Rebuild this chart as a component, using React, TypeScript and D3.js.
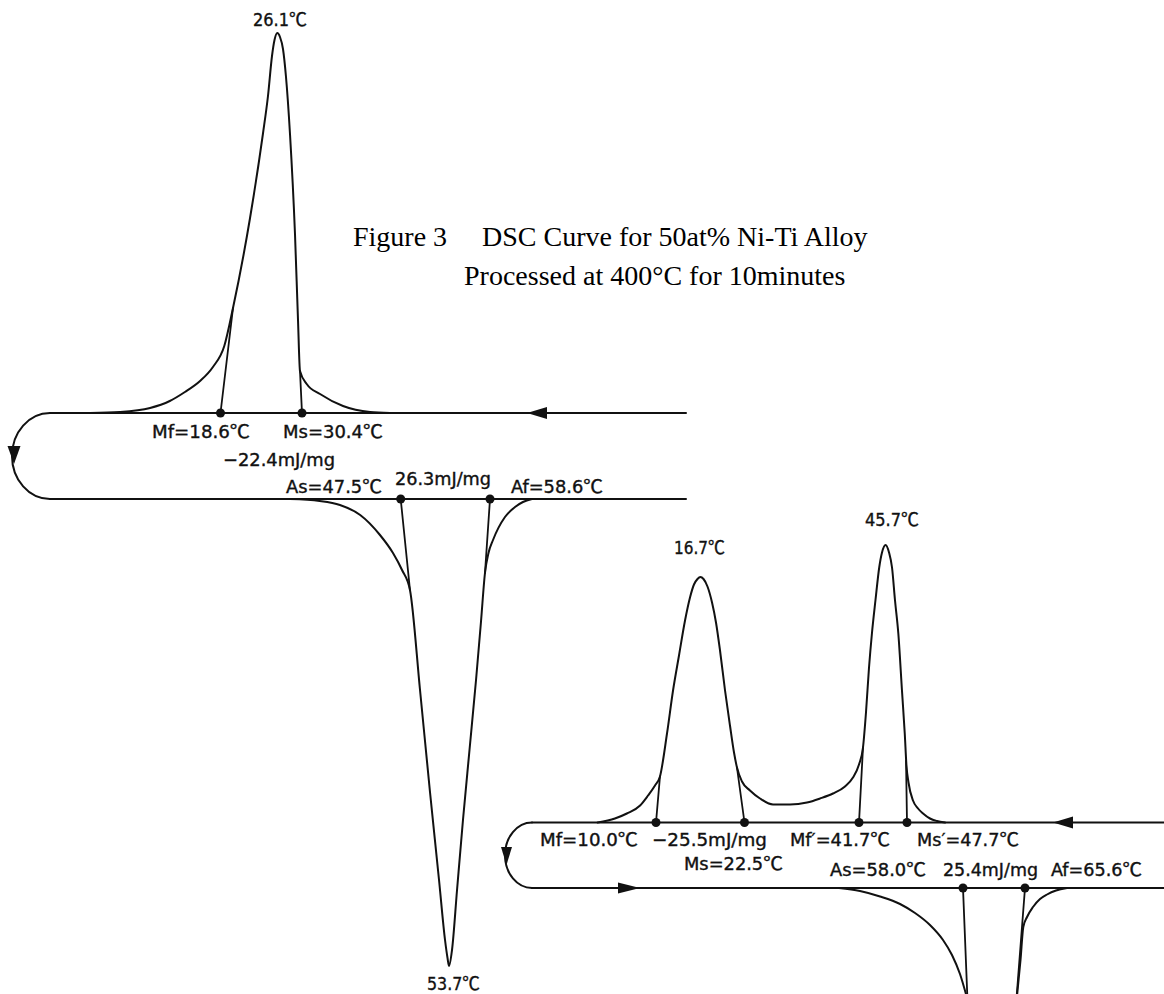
import React from "react";
import * as d3 from "d3";

type Pt = [number, number];

// ================= DATA =================
// Sample A — transformation temperatures (°C)
const sampleANames = ["Mf", "Ms", "As", "Af"];
const sampleATemps = [18.6, 30.4, 47.5, 58.6];
const sampleAPeaks = [26.1, 53.7]; // cooling peak, heating peak
const sampleAEnthalpy = [-22.4, 26.3]; // mJ/mg

// Sample A cooling trace: [temperature °C, heat flow (arb.)], exotherm up
const sampleACooling: Pt[] = [
  [1.4, 0], [5.3, 0.1], [9.3, 0.5], [11.9, 1.2], [13.9, 2.1], [15.9, 3.2],
  [17.6, 4.6], [19.1, 6.7], [20.25, 10.5], [22.5, 19.5], [24.2, 27.9],
  [24.87, 31.7], [25.4, 35.7], [25.73, 37.3], [26.1, 38.0], [26.57, 37.6],
  [27.09, 36.4], [27.6, 33.7], [28.31, 27.9], [29.18, 17.9], [29.71, 9.2],
  [30.05, 4.2], [31.22, 2.9], [33.54, 1.9], [37.54, 0.7], [42.25, 0.1], [45.73, 0],
];
// Sample A heating trace (endotherm down)
const sampleAHeating: Pt[] = [
  [33.3, 0], [37.1, -0.2], [39.7, -0.6], [42.3, -1.6], [44.84, -3.6],
  [46.51, -5.4], [47.67, -7.1], [48.69, -9.1], [49.98, -19.1], [51.26, -29.3],
  [52.42, -38.1], [53.19, -44.1], [53.51, -45.9], [53.7, -46.7], [54.06, -45.1],
  [54.66, -39.1], [55.37, -32.1], [56.15, -25.1], [56.93, -18.1], [57.52, -12.3],
  [58.0, -7.4], [58.42, -5.4], [58.96, -4.1], [60.39, -1.8], [61.59, -0.8],
  [62.54, -0.3], [63.62, 0],
];
// onset tangents: point where each tangent meets the curve (Mf, Ms, As, Af)
const sampleATangents: Pt[] = [[20.25, 10.5], [30.05, 4.2], [48.69, -9.1], [58.0, -7.4]];

// Sample B — transformation temperatures (°C)
const sampleBNames = ["Mf", "Ms", "Mf′", "Ms′", "As", "Af"];
const sampleBTemps = [10.0, 22.5, 41.7, 47.7, 58.0, 65.6];
const sampleBPeaks = [16.7, 45.7];
const sampleBEnthalpy = [-25.5, 25.4];

const sampleBCooling: Pt[] = [
  [1.2, 0], [3.8, 0.4], [5.6, 0.9], [7.6, 1.7], [8.8, 2.7], [9.85, 3.7],
  [10.6, 4.6], [11.66, 8.9], [12.57, 13.2], [13.47, 16.7], [14.38, 20.2],
  [15.13, 22.5], [15.73, 23.8], [16.26, 24.35], [16.7, 24.55], [17.11, 24.35],
  [17.63, 23.6], [18.23, 22.0], [18.75, 20.0], [19.28, 17.2], [19.94, 13.2],
  [20.59, 9.7], [21.12, 7.0], [21.51, 5.5], [22.17, 4.1], [23.42, 3.2],
  [25.1, 2.4], [27.28, 1.8], [30.13, 1.8], [32.98, 2.0], [35.16, 2.4],
  [37.34, 2.9], [39.35, 3.6], [40.69, 4.5], [41.7, 5.8], [42.3, 7.5],
  [42.75, 11.0], [43.2, 15.45], [43.65, 18.95], [44.18, 22.25], [44.74, 25.5],
  [45.16, 27.0], [45.7, 27.75], [46.02, 27.0], [46.3, 25.5], [46.58, 22.2],
  [46.89, 18.9], [47.23, 13.2], [47.49, 8.9], [47.65, 5.7], [47.84, 4.0],
  [48.26, 2.2], [48.73, 1.4], [49.2, 0.9], [49.85, 0.4], [50.5, 0.15], [51.25, 0],
];
// heating endotherm, both visible branches (the minimum lies below the frame)
const sampleBHeatingLow: Pt[] = [
  [42.8, 0], [45.37, -0.3], [47.83, -0.85], [50.28, -1.6], [52.12, -2.5],
  [53.95, -3.7], [55.55, -5.2], [56.65, -6.7], [57.63, -8.6], [58.43, -10.8],
];
const sampleBHeatingHigh: Pt[] = [
  [64.62, -10.8], [65.05, -7.2], [65.39, -3.9], [65.85, -2.9], [66.58, -1.9],
  [67.44, -1.1], [68.3, -0.65], [69.4, -0.25], [70.75, 0],
];
const sampleBTangents: Pt[] = [
  [10.6, 4.6], [21.51, 5.5], [42.3, 7.5], [47.61, 6.2], [58.53, -10.8], [64.58, -10.8],
];

const titleLines = ["Figure 3", "DSC Curve for 50at% Ni-Ti Alloy", "Processed at 400°C for 10minutes"];

// ================= LAYOUT =================
const W = 1164;
const H = 994;
const PX_PER_UNIT = 10;

const layoutA = {
  left: 50, right: 686, coolBase: 413, heatBase: 499, loopRx: 38,
  coolAnchorsPx: [220.5, 277.3, 302], // Mf, peak, Ms
  heatAnchorsPx: [400.7, 449, 490], // As, peak, Af
  arrows: [
    { x: 527, y: 413, dir: "left", len: 20, half: 6 },
    { x: 14, y: 464, dir: "down", len: 18, half: 6.5 },
  ],
  // label boxes: x, baseline y, width
  labels: {
    coolPeak: [253, 26, 54], heatPeak: [427, 990, 53],
    trans: [[152, 438, 98], [283, 438, 100], [286, 493, 96], [511, 493, 92]],
    enthalpy: [[223, 466, 112], [395, 485, 96]],
  },
};

const layoutB = {
  left: 532, right: 1164, coolBase: 822.5, heatBase: 888, loopRx: 27,
  coolAnchorsPx: [656, 700.4, 744.5, 859, 885.6, 907], // Mf, peak1, Ms, Mf', peak2, Ms'
  heatAnchorsPx: [963, 1025], // As, Af
  arrows: [
    { x: 1053, y: 822.5, dir: "left", len: 20, half: 6 },
    { x: 506.5, y: 865, dir: "down", len: 18, half: 5.5 },
    { x: 640, y: 888, dir: "right", len: 22, half: 5.5 },
  ],
  labels: {
    peaks: [[674, 554, 51], [865, 526, 54]],
    trans: [[540, 846, 98], [684, 870, 99], [790, 846, 100], [917, 846, 102], [830, 876, 96], [1051, 876, 91]],
    enthalpy: [[652, 846, 115], [943, 876, 95]],
  },
};

const STROKE = "#111";
const LABEL_FONT = "'DejaVu Sans Condensed', 'DejaVu Sans', sans-serif";
const DEG_FONT = "'Noto Sans CJK JP', 'DejaVu Sans', sans-serif";
const TITLE_FONT = "'Liberation Serif', 'Times New Roman', serif";

const fmtNum = (t: number) => t.toFixed(1);
const fmtH = (h: number) => `${h < 0 ? "−" : ""}${Math.abs(h).toFixed(1)}mJ/mg`;

function arrowPath(x: number, y: number, dir: string, len: number, half: number) {
  const p = d3.path();
  p.moveTo(x, y);
  if (dir === "left") { p.lineTo(x + len, y - half); p.lineTo(x + len, y + half); }
  else if (dir === "right") { p.lineTo(x - len, y - half); p.lineTo(x - len, y + half); }
  else { p.lineTo(x - half, y - len); p.lineTo(x + half, y - len); }
  p.closePath();
  return p.toString();
}

function loopPath(left: number, top: number, bottom: number, rx: number) {
  const ry = (bottom - top) / 2;
  const mid = (top + bottom) / 2;
  const k = 0.5523;
  const p = d3.path();
  p.moveTo(left, top);
  p.bezierCurveTo(left - k * rx, top, left - rx, mid - k * ry, left - rx, mid);
  p.bezierCurveTo(left - rx, mid + k * ry, left - k * rx, bottom, left, bottom);
  return p.toString();
}

const Label = ({ box, text, deg }: { box: number[]; text: string; deg?: boolean }) => (
  <text x={box[0]} y={box[1]} textLength={box[2]} lengthAdjust="spacingAndGlyphs"
    fontFamily={LABEL_FONT} fontSize={18} fill={STROKE} stroke={STROKE} strokeWidth={0.35}>
    {text}
    {deg ? <tspan fontFamily={DEG_FONT}>℃</tspan> : null}
  </text>
);

export default function App() {
  const yA_cool = d3.scaleLinear().domain([0, 1]).range([layoutA.coolBase, layoutA.coolBase - PX_PER_UNIT]);
  const yA_heat = d3.scaleLinear().domain([0, 1]).range([layoutA.heatBase, layoutA.heatBase - PX_PER_UNIT]);
  const yB_cool = d3.scaleLinear().domain([0, 1]).range([layoutB.coolBase, layoutB.coolBase - PX_PER_UNIT]);
  const yB_heat = d3.scaleLinear().domain([0, 1]).range([layoutB.heatBase, layoutB.heatBase - PX_PER_UNIT]);

  const xA_cool = d3.scaleLinear().domain([sampleATemps[0], sampleAPeaks[0], sampleATemps[1]]).range(layoutA.coolAnchorsPx);
  const xA_heat = d3.scaleLinear().domain([sampleATemps[2], sampleAPeaks[1], sampleATemps[3]]).range(layoutA.heatAnchorsPx);
  const xB_cool = d3.scaleLinear()
    .domain([sampleBTemps[0], sampleBPeaks[0], sampleBTemps[1], sampleBTemps[2], sampleBPeaks[1], sampleBTemps[3]])
    .range(layoutB.coolAnchorsPx);
  const xB_heat = d3.scaleLinear().domain([sampleBTemps[4], sampleBTemps[5]]).range(layoutB.heatAnchorsPx);

  const lineGen = (xs: d3.ScaleLinear<number, number>, ys: d3.ScaleLinear<number, number>) =>
    d3.line<Pt>().x((d) => xs(d[0])).y((d) => ys(d[1])).curve(d3.curveMonotoneX);

  const transA = sampleATemps.map((t, i) => ({
    name: sampleANames[i], t,
    xs: i < 2 ? xA_cool : xA_heat, ys: i < 2 ? yA_cool : yA_heat,
    base: i < 2 ? layoutA.coolBase : layoutA.heatBase, tan: sampleATangents[i],
  }));
  const transB = sampleBTemps.map((t, i) => ({
    name: sampleBNames[i], t,
    xs: i < 4 ? xB_cool : xB_heat, ys: i < 4 ? yB_cool : yB_heat,
    base: i < 4 ? layoutB.coolBase : layoutB.heatBase, tan: sampleBTangents[i],
  }));
  const allTrans = [...transA, ...transB];

  const baseLines = [
    [layoutA.left, layoutA.right, layoutA.coolBase],
    [layoutA.left, layoutA.right, layoutA.heatBase],
    [layoutB.left, layoutB.right, layoutB.coolBase],
    [layoutB.left, layoutB.right, layoutB.heatBase],
  ];

  const curves = [
    lineGen(xA_cool, yA_cool)(sampleACooling),
    lineGen(xA_heat, yA_heat)(sampleAHeating),
    lineGen(xB_cool, yB_cool)(sampleBCooling),
    lineGen(xB_heat, yB_heat)(sampleBHeatingLow),
    lineGen(xB_heat, yB_heat)(sampleBHeatingHigh),
  ];

  const arrows = [...layoutA.arrows, ...layoutB.arrows];

  return (
    <svg width={W} height={H} viewBox={`0 0 ${W} ${H}`}
      style={{ position: "absolute", left: 0, top: 0, background: "#fff" }}>
      <rect x={0} y={0} width={W} height={H} fill="#fff" />
      <g fill="none" stroke={STROKE} strokeWidth={2} strokeLinejoin="round" strokeLinecap="round">
        {baseLines.map((b, i) => <line key={"b" + i} x1={b[0]} x2={b[1]} y1={b[2]} y2={b[2]} />)}
        <path d={loopPath(layoutA.left, layoutA.coolBase, layoutA.heatBase, layoutA.loopRx)} />
        <path d={loopPath(layoutB.left, layoutB.coolBase, layoutB.heatBase, layoutB.loopRx)} />
        {curves.map((d, i) => <path key={"c" + i} d={d || ""} />)}
        {allTrans.map((tr, i) => (
          <line key={"t" + i} x1={tr.xs(tr.t)} y1={tr.base} x2={tr.xs(tr.tan[0])} y2={tr.ys(tr.tan[1])} strokeWidth={1.8} />
        ))}
      </g>
      <g fill={STROKE}>
        {allTrans.map((tr, i) => <circle key={"d" + i} cx={tr.xs(tr.t)} cy={tr.base} r={4.5} />)}
        {arrows.map((a, i) => <path key={"a" + i} d={arrowPath(a.x, a.y, a.dir, a.len, a.half)} />)}
      </g>
      <g>
        <Label box={layoutA.labels.coolPeak} text={fmtNum(sampleAPeaks[0])} deg />
        <Label box={layoutA.labels.heatPeak} text={fmtNum(sampleAPeaks[1])} deg />
        {transA.map((tr, i) => <Label key={"la" + i} box={layoutA.labels.trans[i]} text={`${tr.name}=${fmtNum(tr.t)}`} deg />)}
        {sampleAEnthalpy.map((h, i) => <Label key={"ha" + i} box={layoutA.labels.enthalpy[i]} text={fmtH(h)} />)}
        {sampleBPeaks.map((p, i) => <Label key={"pb" + i} box={layoutB.labels.peaks[i]} text={fmtNum(p)} deg />)}
        {transB.map((tr, i) => <Label key={"lb" + i} box={layoutB.labels.trans[i]} text={`${tr.name}=${fmtNum(tr.t)}`} deg />)}
        {sampleBEnthalpy.map((h, i) => <Label key={"hb" + i} box={layoutB.labels.enthalpy[i]} text={fmtH(h)} />)}
      </g>
      <g fontFamily={TITLE_FONT} fontSize={28} fill="#000">
        <text x={353} y={246}>{titleLines[0]}</text>
        <text x={482} y={246}>{titleLines[1]}</text>
        <text x={464} y={285}>{titleLines[2]}</text>
      </g>
    </svg>
  );
}
